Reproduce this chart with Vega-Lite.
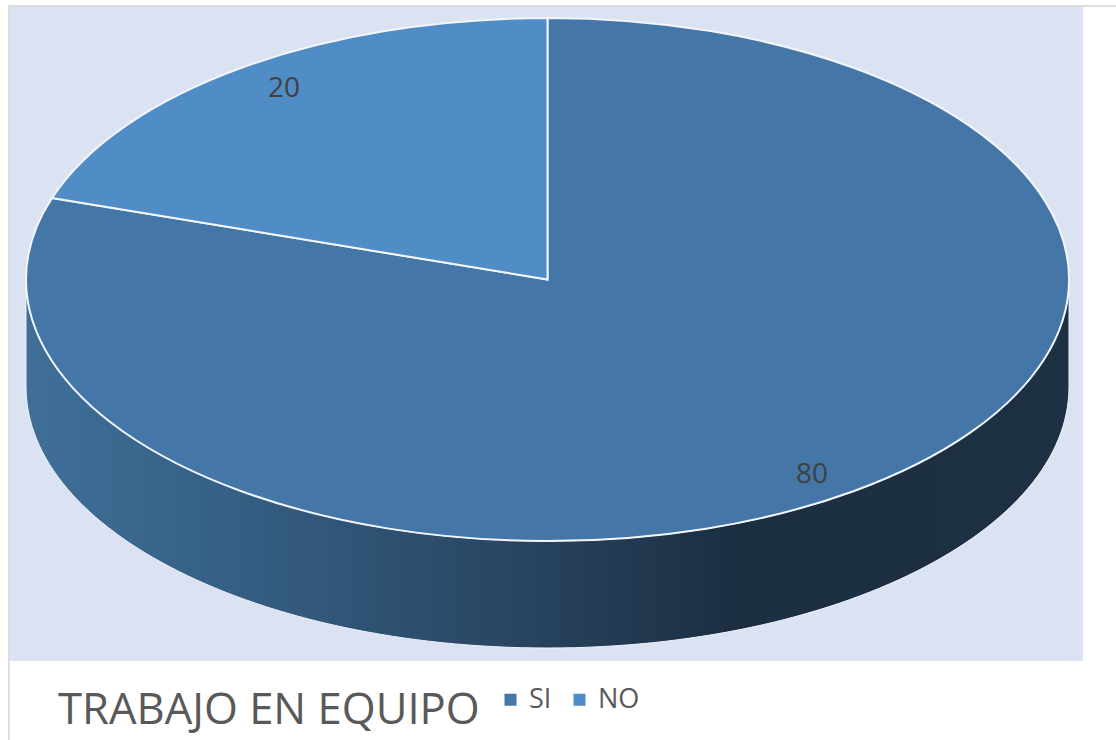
{"$schema":"https://vega.github.io/schema/vega-lite/v6.json","width":1074,"height":654,"autosize":{"type":"none"},"padding":{"left":9,"top":7,"right":33,"bottom":79},"background":"white","view":{"fill":"#dbe3f3","stroke":null},"title":{"text":"TRABAJO EN EQUIPO","orient":"bottom","anchor":"start","frame":"group","offset":-54,"dx":49,"font":"Open Sans","fontSize":43.6,"fontWeight":"normal","color":"#595959"},"data":{"values":[{"respuesta":"SI","valor":80},{"respuesta":"NO","valor":20}]},"layer":[{"mark":{"type":"point","filled":true,"size":1,"shape":"square"},"encoding":{"fill":{"field":"respuesta","type":"nominal","sort":["SI","NO"],"scale":{"range":["#4477a7","#508dc6"]},"legend":{"title":null,"orient":"none","legendX":488,"legendY":679,"direction":"horizontal","columns":2,"symbolType":"square","symbolSize":144,"symbolStrokeWidth":0,"symbolOpacity":1,"labelFont":"Open Sans","labelFontSize":27,"labelColor":"#595959","labelOffset":5,"columnPadding":14,"padding":0}}}},{"transform":[{"filter":"datum.respuesta === 'SI'"}],"mark":{"type":"point","filled":false,"size":4,"stroke":"#dedede","strokeWidth":2,"shape":"M -537 406 L -537 -328 L 570 -328","opacity":1},"encoding":{}},{"transform":[{"filter":"datum.respuesta === 'SI'"}],"mark":{"type":"point","filled":true,"opacity":1,"size":4,"stroke":"#eef2f8","strokeWidth":1,"shape":"M -520 -54.5 A 521.5 261.5 0 0 0 523 -54.5 L 523 52.5 A 521.5 261.5 0 0 1 -520 52.5 Z","fill":{"gradient":"linear","x1":0,"y1":0,"x2":1,"y2":0,"stops":[{"offset":0,"color":"#3f6f98"},{"offset":0.2,"color":"#355f84"},{"offset":0.5,"color":"#27425d"},{"offset":0.68,"color":"#1b2e42"},{"offset":1,"color":"#1e3043"}]}},"encoding":{}},{"mark":{"type":"point","filled":true,"opacity":1,"size":4,"stroke":"#f2f5fa","strokeWidth":2},"encoding":{"color":{"field":"respuesta","type":"nominal","scale":{"domain":["SI","NO"],"range":["#4477a7","#508dc6"]},"legend":null},"shape":{"field":"respuesta","type":"nominal","legend":null,"scale":{"domain":["SI","NO"],"range":["M 1.5 -54.5 L 1.5 -316 A 521.5 261.5 0 1 1 -494 -136 Z","M 1.5 -54.5 L -494 -136 A 521.5 261.5 0 0 1 1.5 -316 Z"]}}}},{"transform":[{"filter":"datum.respuesta === 'NO'"}],"mark":{"type":"text","font":"Open Sans","fontSize":28,"color":"#404040","dx":-262,"dy":-245},"encoding":{"text":{"field":"valor","type":"quantitative"}}},{"transform":[{"filter":"datum.respuesta === 'SI'"}],"mark":{"type":"text","font":"Open Sans","fontSize":28,"color":"#404040","dx":266,"dy":141},"encoding":{"text":{"field":"valor","type":"quantitative"}}}]}
